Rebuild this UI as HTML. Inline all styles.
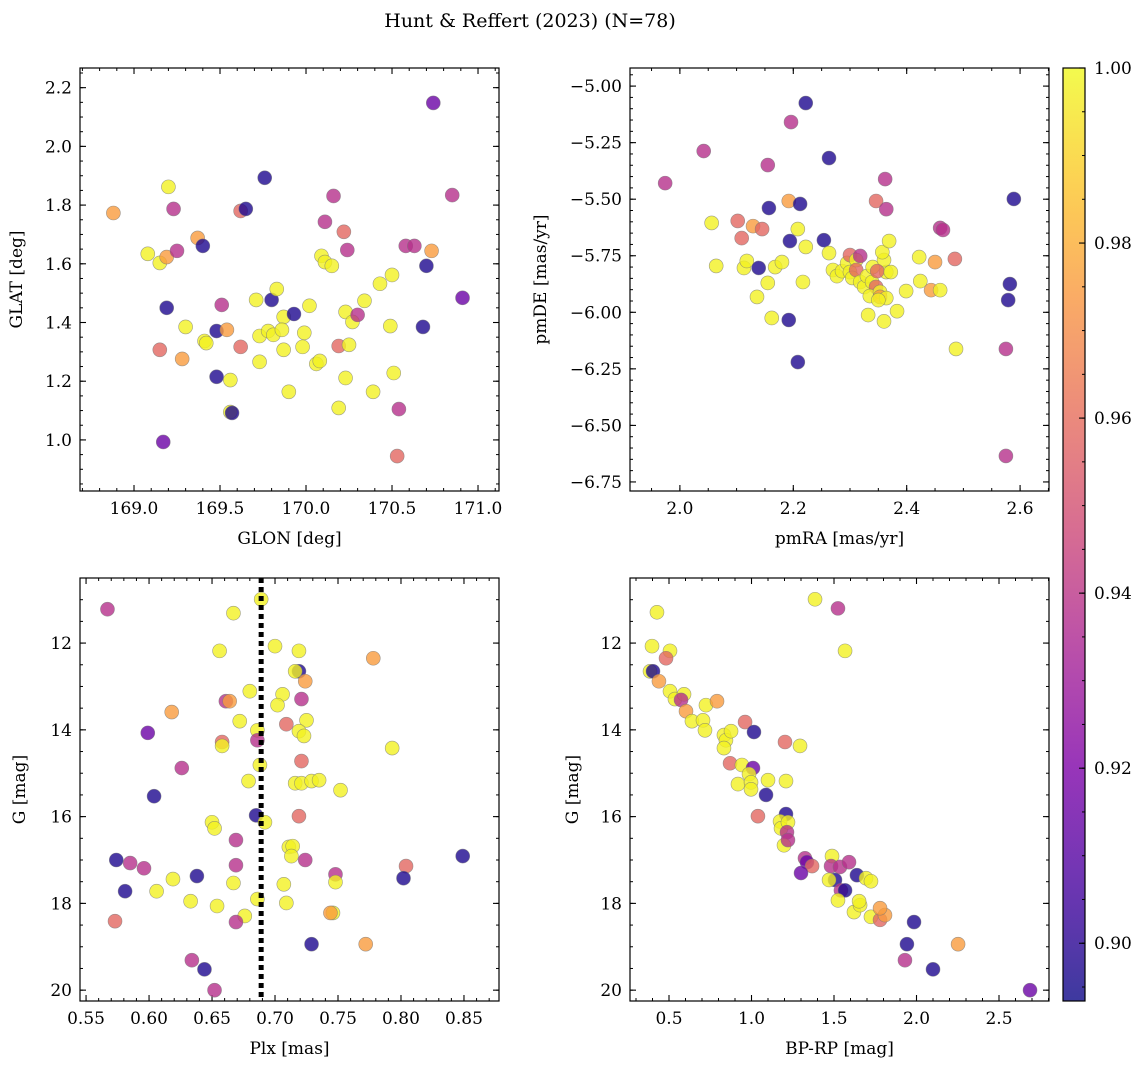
<!DOCTYPE html>
<html><head><meta charset="utf-8"><style>
body{margin:0;background:#fff}
svg{display:block;font-family:"DejaVu Serif","Liberation Serif",serif}
</style></head><body>
<svg id="fig" width="1148" height="1068" viewBox="0 0 1148 1068">
<text x="530" y="27" font-size="19" text-anchor="middle">Hunt &amp; Reffert (2023) (N=78)</text>
</svg>
<script>
// Probability classes: Y~0.998, O~0.975, S~0.958, M~0.938, P~0.915, B~0.897
const glon=[168.88,169.20,169.08,169.15,169.19,169.23,169.25,169.37,169.40,169.19,169.30,169.41,169.42,169.15,169.28,169.48,169.51,169.54,169.48,169.56,169.56,169.57,169.17,169.62,169.62,169.65,169.76,169.71,169.73,169.73,169.80,169.83,169.78,169.81,169.87,169.87,169.90,169.86,169.93,169.98,169.99,170.02,170.06,170.08,170.09,170.11,170.11,170.15,170.16,170.19,170.19,170.22,170.23,170.23,170.24,170.25,170.27,170.30,170.34,170.39,170.43,170.50,170.49,170.51,170.53,170.54,170.58,170.63,170.68,170.70,170.73,170.74,170.85,170.91];
const glat=[1.773,1.862,1.634,1.603,1.623,1.787,1.644,1.688,1.661,1.450,1.385,1.337,1.330,1.307,1.276,1.371,1.460,1.375,1.215,1.204,1.095,1.092,0.993,1.317,1.780,1.787,1.893,1.477,1.354,1.266,1.477,1.514,1.371,1.358,1.419,1.307,1.164,1.375,1.429,1.317,1.365,1.457,1.259,1.269,1.627,1.606,1.743,1.593,1.831,1.320,1.109,1.709,1.211,1.436,1.647,1.324,1.402,1.426,1.474,1.164,1.532,1.562,1.388,1.228,0.945,1.105,1.661,1.661,1.385,1.593,1.644,2.148,1.834,1.484];
const prob1="OYYYOMMOBBYYYSOBMOBYYBPSSBBYYYBYYYYYYYBYYYYYYYMYMSYSYYMYYMYYYYYYSMMMBBOPMP";

const pmra=[1.974,2.042,2.222,2.196,2.155,2.263,2.362,2.157,2.192,2.212,2.056,2.102,2.109,2.129,2.145,2.064,2.113,2.118,2.136,2.139,2.155,2.168,2.180,2.162,2.194,2.208,2.222,2.217,2.192,2.208,2.254,2.263,2.270,2.277,2.286,2.295,2.300,2.304,2.300,2.311,2.311,2.318,2.325,2.318,2.330,2.339,2.346,2.335,2.353,2.340,2.332,2.353,2.364,2.364,2.360,2.357,2.348,2.360,2.350,2.369,2.346,2.364,2.372,2.383,2.399,2.422,2.424,2.443,2.450,2.459,2.464,2.459,2.485,2.487,2.589,2.582,2.579,2.575,2.575];
const pmde=[-5.429,-5.287,-5.075,-5.159,-5.349,-5.318,-5.411,-5.539,-5.508,-5.521,-5.605,-5.596,-5.672,-5.619,-5.632,-5.795,-5.804,-5.773,-5.932,-5.804,-5.870,-5.800,-5.778,-6.025,-5.685,-5.632,-5.711,-5.866,-6.034,-6.220,-5.681,-5.738,-5.813,-5.840,-5.818,-5.782,-5.822,-5.848,-5.747,-5.769,-5.813,-5.866,-5.888,-5.751,-5.840,-5.866,-5.888,-5.928,-5.910,-5.800,-6.012,-5.932,-5.937,-5.822,-5.769,-5.734,-5.818,-6.040,-5.946,-5.685,-5.508,-5.544,-5.822,-5.995,-5.906,-5.756,-5.862,-5.902,-5.778,-5.627,-5.636,-5.902,-5.764,-6.162,-5.499,-5.875,-5.946,-6.162,-6.635];
const prob2="MMBMMBMBOBYSSOSYYYYBYYYYBYYYBBBYYYYYYYSYSYYMYYSYYYYOYYYYSYYYSMYYYYYOOMMYSYBBBMM";

const plx=[0.567,0.689,0.667,0.700,0.656,0.719,0.719,0.716,0.724,0.778,0.618,0.661,0.664,0.680,0.706,0.702,0.721,0.672,0.686,0.709,0.725,0.719,0.723,0.599,0.686,0.658,0.658,0.793,0.721,0.626,0.688,0.679,0.716,0.721,0.729,0.735,0.752,0.604,0.719,0.685,0.692,0.650,0.652,0.669,0.711,0.714,0.713,0.724,0.849,0.574,0.585,0.596,0.669,0.804,0.748,0.619,0.638,0.667,0.707,0.748,0.802,0.581,0.606,0.633,0.654,0.686,0.709,0.746,0.744,0.676,0.669,0.573,0.772,0.729,0.634,0.644,0.652];
const gmag3=[11.22,10.99,11.31,12.07,12.18,12.18,12.65,12.65,12.88,12.35,13.59,13.34,13.34,13.11,13.18,13.43,13.29,13.80,14.01,13.87,13.78,14.03,14.14,14.07,14.24,14.28,14.37,14.42,14.72,14.88,14.81,15.18,15.23,15.23,15.18,15.16,15.39,15.53,15.99,15.97,16.13,16.13,16.27,16.54,16.70,16.68,16.91,17.00,16.91,17.00,17.07,17.19,17.12,17.14,17.33,17.44,17.37,17.53,17.56,17.51,17.42,17.72,17.72,17.95,18.06,17.90,17.99,18.22,18.22,18.29,18.43,18.41,18.94,18.94,19.31,19.52,20.00];
const prob3="MYYYYYBYOOOMOYYYMYYSYYYPMSYYSMYYYYYYYBSBYYYMYYYMBBMMMSMYBYYYBBYYYYYYOYMSOBMBM";
const plxRef=[0.689];

const bprp=[1.385,1.524,0.427,1.567,0.397,0.506,0.482,0.385,0.403,0.439,0.506,0.536,0.591,0.573,0.603,0.639,0.724,0.706,0.791,0.718,0.833,0.845,0.876,0.833,0.870,0.961,1.015,0.942,1.009,0.985,0.918,0.997,0.997,1.100,1.209,1.294,1.203,1.088,1.039,1.209,1.173,1.179,1.221,1.215,1.197,1.221,1.324,1.336,1.367,1.300,1.488,1.482,1.536,1.591,1.506,1.470,1.542,1.567,1.524,1.621,1.658,1.652,1.639,1.694,1.724,1.724,1.779,1.809,1.779,1.942,1.985,1.930,2.100,2.252,2.688];
const gmag4=[10.99,11.20,11.29,12.18,12.07,12.18,12.35,12.65,12.65,12.88,13.11,13.29,13.18,13.31,13.57,13.80,13.43,13.78,13.34,14.01,14.12,14.24,14.03,14.42,14.77,13.82,14.05,14.81,14.88,15.02,15.25,15.21,15.37,15.16,15.18,14.37,14.28,15.50,15.99,15.94,16.11,16.27,16.13,16.36,16.66,16.54,16.96,17.05,17.14,17.30,16.91,17.14,17.16,17.05,17.46,17.46,17.70,17.70,17.93,18.20,18.04,17.95,17.35,17.42,17.49,18.31,18.38,18.27,18.11,18.94,18.43,19.31,19.52,18.94,20.00];
const prob4="YMYYYYSYBOYYYMOYYYOYYYYYSSBYPYYYYYYYSBSBYYYMYMMPSPYMMMBYMBYYYYBYYYSOOBBMBOP";

const classP={Y:0.998,O:0.975,S:0.958,M:0.938,P:0.915,B:0.897};
const cbTicks=[0.90,0.92,0.94,0.96,0.98,1.00];
const vmin=0.8934,vmax=1.0;

const NS="http://www.w3.org/2000/svg";
const svg=document.getElementById('fig');
const FS=17;
function mk(tag,attrs,parent){const e=document.createElementNS(NS,tag);for(const k in attrs)e.setAttribute(k,attrs[k]);(parent||svg).appendChild(e);return e;}
const stops=[[0,[13,8,135]],[0.125,[73,3,160]],[0.25,[126,3,168]],[0.375,[169,35,149]],[0.5,[204,71,120]],[0.625,[230,108,92]],[0.75,[248,149,64]],[0.875,[253,197,39]],[1,[240,249,33]]];
function plasma(t){t=Math.max(0,Math.min(1,t));for(let i=1;i<stops.length;i++){if(t<=stops[i][0]){const a=stops[i-1],b=stops[i];const f=(t-a[0])/(b[0]-a[0]);const c=a[1].map((v,j)=>Math.round(v+(b[1][j]-v)*f));return `rgb(${c[0]},${c[1]},${c[2]})`;}}return 'rgb(240,249,33)';}
function col(p){return plasma((p-vmin)/(vmax-vmin));}
function range(a,b,s){const r=[];for(let v=Math.ceil(a/s-1e-6)*s;v<=b+1e-9;v+=s)r.push(+v.toFixed(6));return r;}

function panel(o){
  const {x0,y0,x1,y1,xd,yd,xmaj,xmin,ymaj,ymin,xdec,ydec,name}=o;
  const g=mk('g',{},svg);
  
  
  const sx=v=>x0+(v-xd[0])/(xd[1]-xd[0])*(x1-x0);
  const sy=v=>y0+(v-yd[0])/(yd[1]-yd[0])*(y1-y0);
  o.sx=sx;o.sy=sy;o.g=g;
  const lo=Math.min(...xd),hi=Math.max(...xd),ylo=Math.min(...yd),yhi=Math.max(...yd);
  range(lo,hi,xmin).forEach(v=>{const x=sx(v);mk('line',{x1:x,x2:x,y1:y1,y2:y1-3,stroke:'#000','stroke-width':1},g);mk('line',{x1:x,x2:x,y1:y0,y2:y0+3,stroke:'#000','stroke-width':1},g);});
  range(ylo,yhi,ymin).forEach(v=>{const y=sy(v);mk('line',{x1:x0,x2:x0+3,y1:y,y2:y,stroke:'#000','stroke-width':1},g);mk('line',{x1:x1,x2:x1-3,y1:y,y2:y,stroke:'#000','stroke-width':1},g);});
  range(lo,hi,xmaj).forEach(v=>{const x=sx(v);mk('line',{x1:x,x2:x,y1:y1,y2:y1-6,stroke:'#000','stroke-width':1.1},g);mk('line',{x1:x,x2:x,y1:y0,y2:y0+6,stroke:'#000','stroke-width':1.1},g);
    const t=mk('text',{x:x,y:y1+23,'font-size':FS,'text-anchor':'middle'},g);t.textContent=v.toFixed(xdec);
    
    });
  range(ylo,yhi,ymaj).forEach(v=>{const y=sy(v);mk('line',{x1:x0,x2:x0+6,y1:y,y2:y,stroke:'#000','stroke-width':1.1},g);mk('line',{x1:x1,x2:x1-6,y1:y,y2:y,stroke:'#000','stroke-width':1.1},g);
    const t=mk('text',{x:x0-8,y:y+6,'font-size':FS,'text-anchor':'end'},g);t.textContent=(v<0?'\u2212':'')+Math.abs(v).toFixed(ydec);
    
    });
  const xl=mk('text',{x:(x0+x1)/2,y:y1+53,'font-size':FS,'text-anchor':'middle'},g);xl.textContent=o.xlabel;
  
  
  const yx=o.ylx;const yy=(y0+y1)/2;
  const yl=mk('text',{x:yx,y:yy,'font-size':FS,'text-anchor':'middle',transform:`rotate(-90 ${yx} ${yy})`},g);yl.textContent=o.ylabel;
  
  
  return o;
}
function frame(o){const r=mk('rect',{x:o.x0,y:o.y0,width:o.x1-o.x0,height:o.y1-o.y0,fill:'none',stroke:'#000','stroke-width':1.2},o.g);
  
  }
function scatter(o,xs,ys,ps){
  const cp=mk('clipPath',{id:'cp'+o.name},o.g);mk('rect',{x:o.x0,y:o.y0,width:o.x1-o.x0,height:o.y1-o.y0},cp);
  const pg=mk('g',{'clip-path':`url(#cp${o.name})`},o.g);
  xs.forEach((v,i)=>{const p=classP[ps[i]]||0.998;
    const c=mk('circle',{cx:o.sx(v),cy:o.sy(ys[i]),r:7,fill:col(p),'fill-opacity':0.8,stroke:'#777','stroke-opacity':0.7,'stroke-width':0.6},pg);
    
    });
  return pg;
}
const p1=panel({name:'glon-glat-panel',x0:80,y0:68,x1:499,y1:491,xd:[168.686,171.122],yd:[2.267,0.826],xmaj:0.5,xmin:0.1,ymaj:0.2,ymin:0.05,xdec:1,ydec:1,xlabel:'GLON [deg]',ylabel:'GLAT [deg]',ylx:22});
scatter(p1,glon,glat,prob1);frame(p1);
const p2=panel({name:'proper-motion-panel',x0:630,y0:68,x1:1049,y1:491,xd:[1.912,2.651],yd:[-4.920,-6.790],xmaj:0.2,xmin:0.05,ymaj:0.25,ymin:0.05,xdec:1,ydec:2,xlabel:'pmRA [mas/yr]',ylabel:'pmDE [mas/yr]',ylx:546});
scatter(p2,pmra,pmde,prob2);frame(p2);
const p3=panel({name:'plx-g-panel',x0:80,y0:578,x1:499,y1:1001,xd:[0.5452,0.8778],yd:[10.50,20.25],xmaj:0.05,xmin:0.01,ymaj:2,ymin:0.5,xdec:2,ydec:0,xlabel:'Plx [mas]',ylabel:'G [mag]',ylx:25});
const pg3=scatter(p3,plx,gmag3,prob3);
plxRef.forEach(v=>{const l=mk('line',{x1:p3.sx(v),x2:p3.sx(v),y1:578,y2:1001,stroke:'#000','stroke-width':5,'stroke-dasharray':'5,4'},pg3);
  
  });
frame(p3);
const p4=panel({name:'cmd-panel',x0:630,y0:578,x1:1049,y1:1001,xd:[0.2636,2.803],yd:[10.50,20.25],xmaj:0.5,xmin:0.1,ymaj:2,ymin:0.5,xdec:1,ydec:0,xlabel:'BP-RP [mag]',ylabel:'G [mag]',ylx:578});
scatter(p4,bprp,gmag4,prob4);frame(p4);

// colorbar
const cb=mk('g',{},svg);


const cbx=1063,cbw=22,cby0=68,cby1=1001;
const cy=v=>cby1-(v-vmin)/(vmax-vmin)*(cby1-cby0);
const def=mk('defs',{},cb);const lg=mk('linearGradient',{id:'cbg',x1:0,y1:1,x2:0,y2:0},def);
for(let i=0;i<=20;i++){mk('stop',{offset:i/20,'stop-color':plasma(i/20)},lg);}
mk('rect',{x:cbx,y:cby0,width:cbw,height:cby1-cby0,fill:'url(#cbg)','fill-opacity':0.8},cb);
mk('rect',{x:cbx,y:cby0,width:cbw,height:cby1-cby0,fill:'none',stroke:'#000','stroke-width':1.2},cb);
range(vmin,vmax,0.005).forEach(v=>{const y=cy(v);mk('line',{x1:cbx+cbw,x2:cbx+cbw-3,y1:y,y2:y,stroke:'#000'},cb);});
cbTicks.forEach(v=>{const y=cy(v);mk('line',{x1:cbx+cbw,x2:cbx+cbw-6,y1:y,y2:y,stroke:'#000','stroke-width':1.1},cb);
  const t=mk('text',{x:cbx+cbw+9,y:y+6,'font-size':FS},cb);t.textContent=v.toFixed(2);
  
  });
</script>
</body></html>
